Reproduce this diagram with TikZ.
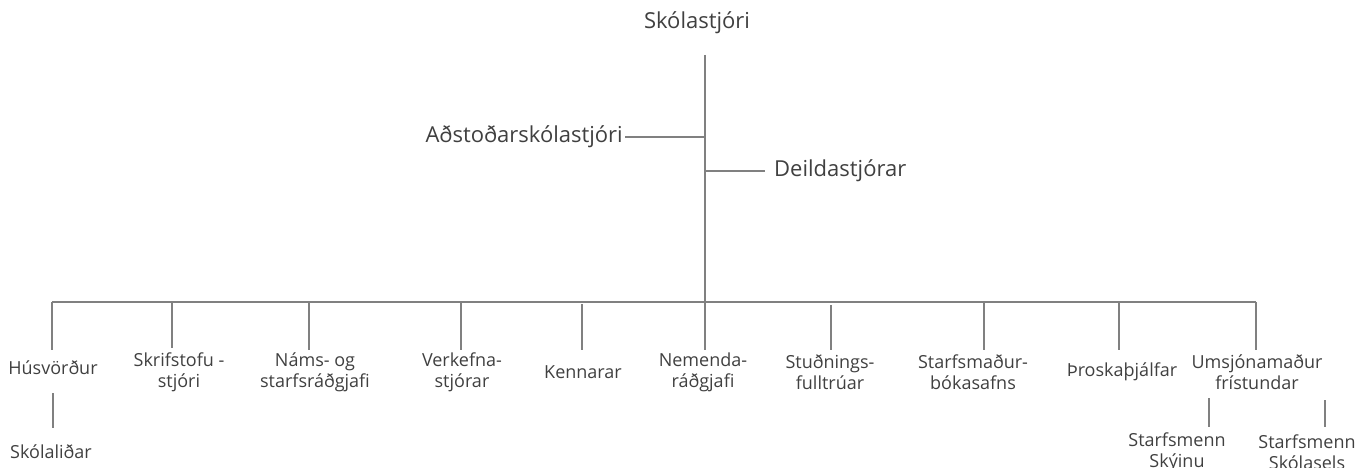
\documentclass[tikz,border=0pt]{standalone}
\usepackage{fontspec}
\setmainfont{Open Sans}
\definecolor{txt}{HTML}{404040}
\definecolor{ln}{HTML}{808080}
\begin{document}
\begin{tikzpicture}[x=1pt,y=-1pt,
  lbl/.style={inner sep=0pt,text=txt,align=center,font=\fontsize{18}{21}\selectfont},
  big/.style={lbl,font=\fontsize{22}{26}\selectfont},
  conn/.style={draw=ln,line width=1.1pt}]
\useasboundingbox (0,0) rectangle (1370,468);
% nodes
\node[big] (skola) at (697,23) {Skólastjóri};
\node[big,anchor=east] (adst) at (623,137) {Aðstoðarskólastjóri};
\node[big,anchor=west] (deild) at (774,171) {Deildastjórar};
\node[lbl] (hus) at (53,368) {Húsvörður};
\node[lbl] (skolalid) at (51,452) {Skólaliðar};
\node[lbl] (skrif) at (179,372) {Skrifstofu -\\stjóri};
\node[lbl] (nams) at (315,372) {Náms- og\\starfsráðgjafi};
\node[lbl] (verk) at (462,372) {Verkefna-\\stjórar};
\node[lbl] (kenn) at (583,372) {Kennarar};
\node[lbl] (nem) at (703,372) {Nemenda-\\ráðgjafi};
\node[lbl] (stud) at (830,372) {Stuðnings-\\fulltrúar};
\node[lbl] (bok) at (973,372) {Starfsmaður-\\bókasafns};
\node[lbl] (thro) at (1122,372) {Þroskaþjálfar};
\node[lbl] (umsj) at (1257,372) {Umsjónamaður\\frístundar};
\node[lbl] (sky) at (1177,452) {Starfsmenn\\Skýinu};
\node[lbl] (sel) at (1307,452) {Starfsmenn\\Skólasels};
% coordinates
\coordinate (top) at (705,55);
\coordinate (ja) at (705,137);
\coordinate (jd) at (705,171);
\coordinate (jde) at (765,171);
\coordinate (bL) at (52,302);
\coordinate (bR) at (1256,302);
\coordinate (bN) at (705,302);
% connectors
\draw[conn] (top) -- (bN);
\draw[conn] ([xshift=2pt]adst.east) -- (ja);
\draw[conn] (jd) -- (jde);
\draw[conn] (bL) -- (bR);
\draw[conn] (bL) -- (52,350);
\draw[conn] (172,302) -- (172,348);
\draw[conn] (309,302) -- (309,350);
\draw[conn] (461,302) -- (461,350);
\draw[conn] (582,304) -- (582,350);
\draw[conn] (bN) -- (705,350);
\draw[conn] (831,305) -- (831,350);
\draw[conn] (984,302) -- (984,350);
\draw[conn] (1119,302) -- (1119,350);
\draw[conn] (bR) -- (1256,350);
\draw[conn] (53,393) -- (53,428);
\draw[conn] (1209,398) -- (1209,427);
\draw[conn] (1325,400) -- (1325,427);
\end{tikzpicture}
\end{document}
